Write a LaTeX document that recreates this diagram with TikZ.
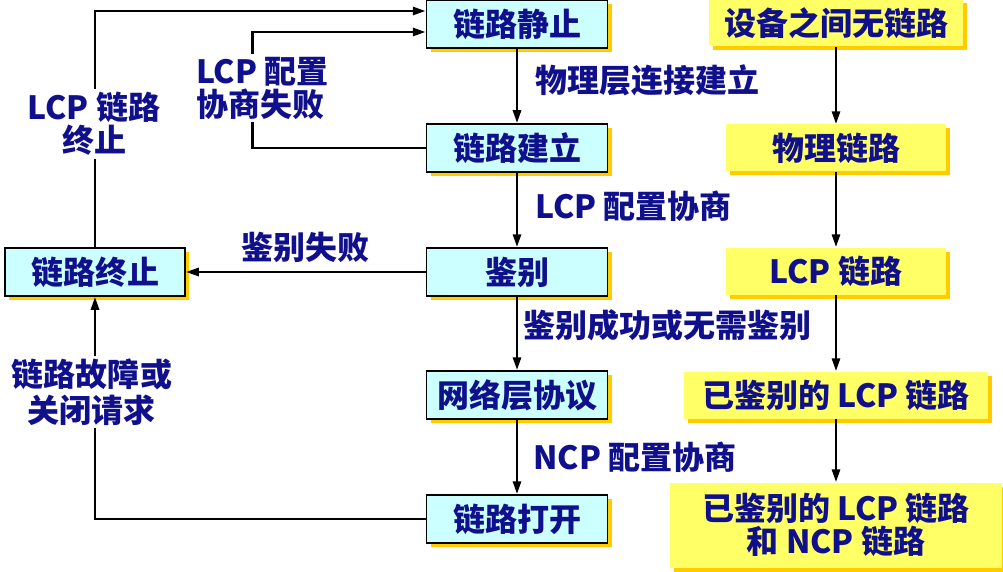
\documentclass[tikz,border=0pt]{standalone}
\usepackage{fontspec}
\setmainfont{Noto Sans CJK SC}
\usepackage{tikz}
\usetikzlibrary{arrows.meta,shadows}
\definecolor{pnavy}{HTML}{10108C}
\definecolor{pcyan}{HTML}{CCFFFF}
\definecolor{pyell}{HTML}{FFFF66}
\definecolor{pgold}{HTML}{FFCC00}

\begin{document}
\begin{tikzpicture}[x=1pt,y=-1pt,
      every node/.style={align=center,inner sep=0pt,text=pnavy,
                         font=\fontsize{32}{33}\selectfont\bfseries},
      st/.style={fill=pcyan,draw=black,line width=1.5pt,
                 minimum width=181pt,minimum height=48pt,
                 drop shadow={shadow xshift=4pt,shadow yshift=-4pt,fill=pgold,opacity=1}},
      lk/.style={fill=pyell,minimum height=47pt,
                 drop shadow={shadow xshift=4pt,shadow yshift=-4pt,fill=pgold,opacity=1}},
      arr/.style={-{Triangle[length=13pt,width=8pt]},line width=2.8pt},
      lbl/.style={fill=white,inner sep=3pt}
    ]
      \useasboundingbox[fill=white] (0,0) rectangle (1003,572);
      \node[st] (qs) at (517,24) {链路静止};
      \node[st] (jl) at (517,148) {链路建立};
      \node[st] (jb) at (517,272) {鉴别};
      \node[st] (wl) at (517,395) {网络层协议};
      \node[st] (dk) at (517,519) {链路打开};
      \node[st,minimum width=180pt] (zz) at (95,272) {链路终止};

      \node[lk,minimum width=254pt] (y1) at (836,23) {设备之间无链路};
      \node[lk,minimum width=220pt] (y2) at (836,148) {物理链路};
      \node[lk,minimum width=220pt] (y3) at (836,271) {LCP 链路};
      \node[lk,minimum width=304pt] (y4) at (836,395) {已鉴别的 LCP 链路};
      \node[lk,minimum width=332pt,minimum height=85pt] (y5) at (836,525)
        {已鉴别的 LCP 链路\\和 NCP 链路};

      \draw[arr] (qs) -- node[right=17pt,yshift=6pt] {物理层连接建立} (jl);
      \draw[arr] (jl) -- node[right=17pt,yshift=4pt] {LCP 配置协商} (jb);
      \draw[arr] (jb) -- node[right=5pt,yshift=8pt] {鉴别成功或无需鉴别} (wl);
      \draw[arr] (wl) -- node[right=15pt] {NCP 配置协商} (dk);
      \foreach \a/\b in {y1/y2,y2/y3,y3/y4,y4/y5}
        \draw[arr] (\a) -- (\b);

      \draw[arr] (zz.north) |- ([yshift=13pt]qs.west);
      \draw[arr] (jl.west) -| ([xshift=-173pt,yshift=-8pt]qs.west)
        -- ([yshift=-8pt]qs.west);
      \draw[arr] (jb) -- node[above=8pt] {鉴别失败} (zz);
      \draw[arr] (dk) -| (zz);

      \node[lbl] (t1) at (94,124) {LCP 链路\\终止};
      \node[lbl,anchor=west,align=left] (t2) at (193,88) {LCP 配置\\协商失败};
      \node[lbl] (t3) at (92,392) {链路故障或\\[3pt]关闭请求};
    \end{tikzpicture}
\end{document}
